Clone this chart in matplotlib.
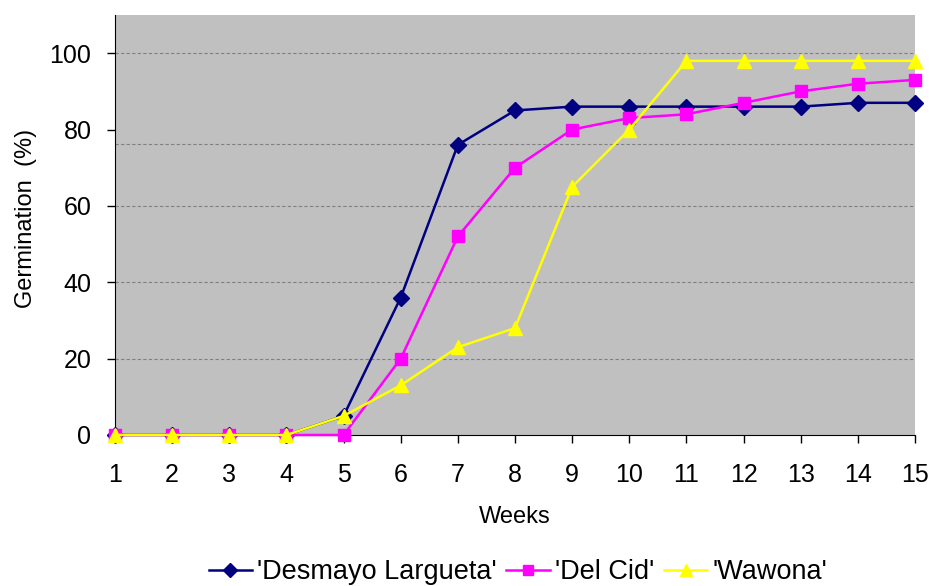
import numpy as np
import matplotlib
matplotlib.use("Agg")
import matplotlib.pyplot as plt

plt.rcParams['font.family'] = ['Liberation Sans', 'DejaVu Sans']

# data
weeks = list(range(1, 16))
desmayo = [0, 0, 0, 0, 5, 36, 76, 85, 86, 86, 86, 86, 86, 87, 87]
del_cid = [0, 0, 0, 0, 0, 20, 52, 70, 80, 83, 84, 87, 90, 92, 93]
wawona = [0, 0, 0, 0, 5, 13, 23, 28, 65, 80, 98, 98, 98, 98, 98]
y_ticks = [0, 20, 40, 60, 80, 100]
grid_vals = [20, 40, 60, 76.3, 100]   # the gridlines as drawn in the original

fig = plt.figure(figsize=(9.3, 5.86), dpi=100)
ax = fig.add_axes([115/930, 1-435/586, 800/930, 420/586])
ax.set_facecolor('#C0C0C0')

for g in grid_vals:
    ax.axhline(g, color='#808080', lw=0.8, ls=(0, (3, 2)), zorder=1)

ax.plot(weeks, desmayo, color='#000080', lw=1.8, marker='D', ms=8,
        label="'Desmayo Largueta'", clip_on=False, zorder=3)
ax.plot(weeks, del_cid, color='#FF00FF', lw=1.8, marker='s', ms=9,
        label="'Del Cid'", clip_on=False, zorder=4)
ax.plot(weeks, wawona, color='#FFFF00', lw=1.8, marker='^', ms=10,
        label="'Wawona'", clip_on=False, zorder=5)

ax.set_xlim(1, 15)
ax.set_ylim(0, 110)
ax.set_xticks(weeks)
ax.set_yticks(y_ticks)
ax.tick_params(axis='both', labelsize=18, length=6, width=1, color='black')
ax.tick_params(axis='x', pad=14)
ax.tick_params(axis='y', pad=11)
ax.spines['top'].set_visible(False)
ax.spines['right'].set_visible(False)

ax.set_xlabel('Weeks', fontsize=17, va='center')
ax.xaxis.set_label_coords(0.5, -82/420)
ax.set_ylabel('Germination  (%)', fontsize=17, va='center')
ax.yaxis.set_label_coords((26-115)/800, (435-218)/420)

fig.legend(loc='center', bbox_to_anchor=(518/930, 1-572/586), ncol=3,
           frameon=False, fontsize=19.5, handlelength=1.6, handletextpad=0.2,
           columnspacing=0.35, markerscale=0.85)

fig.savefig('out.png', dpi=100)
